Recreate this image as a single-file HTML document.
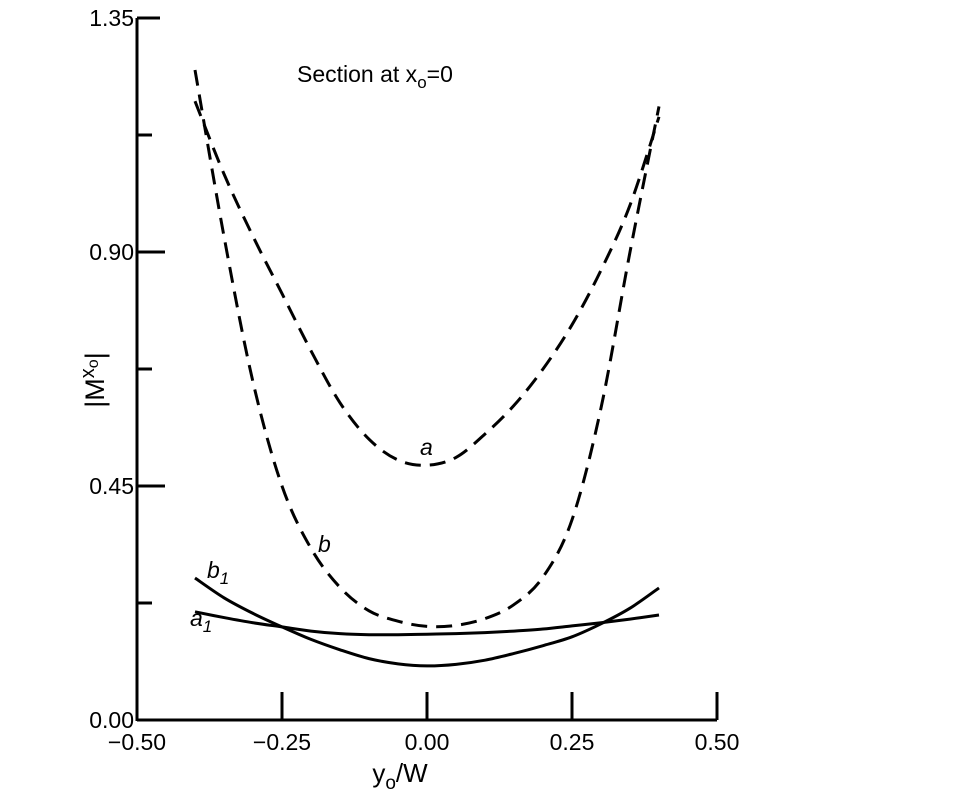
<!DOCTYPE html>
<html><head><meta charset="utf-8"><style>
body{margin:0;background:#fff;}
svg text{font-family:"Liberation Sans",sans-serif;fill:#000;}
</style></head><body>
<svg width="970" height="802" viewBox="0 0 970 802">
<g id="axes"></g>
<g id="series"></g>
<text x="297" y="82" font-size="23">Section at  x<tspan font-size="17" dy="6">o</tspan><tspan dy="-6">=0</tspan></text>
<text transform="translate(104,380) rotate(-90)" font-size="27" text-anchor="middle">|M<tspan font-size="20" dy="-10">x</tspan><tspan font-size="16" dy="4">o</tspan><tspan dy="6">|</tspan></text>
<text x="400" y="782" font-size="26" text-anchor="middle">y<tspan font-size="19" dy="7">o</tspan><tspan dy="-7">/W</tspan></text>
<text x="420" y="455" font-size="23" font-style="italic">a</text>
<text x="318" y="552" font-size="23" font-style="italic">b</text>
<text x="207" y="578" font-size="23" font-style="italic">b<tspan font-size="17" dy="6">1</tspan></text>
<text x="190" y="626" font-size="23" font-style="italic">a<tspan font-size="17" dy="6">1</tspan></text>
</svg>
<script>
const xs = [-0.4,-0.35,-0.3,-0.25,-0.2,-0.15,-0.1,-0.05,0,0.05,0.1,0.15,0.2,0.25,0.3,0.35,0.4];
const seriesA = [1.19,1.05,0.93,0.82,0.71,0.61,0.54,0.50,0.49,0.505,0.55,0.605,0.675,0.76,0.865,0.99,1.16];
const seriesB = [1.25,0.93,0.65,0.45,0.33,0.255,0.21,0.19,0.18,0.182,0.195,0.222,0.275,0.385,0.60,0.90,1.18];
const seriesB1 = [0.273,0.235,0.205,0.179,0.155,0.135,0.118,0.108,0.104,0.107,0.115,0.128,0.143,0.16,0.185,0.215,0.254];
const seriesA1 = [0.208,0.197,0.187,0.179,0.171,0.166,0.164,0.164,0.165,0.166,0.168,0.171,0.175,0.181,0.187,0.194,0.202];
const xTicks = [-0.5,-0.25,0,0.25,0.5];
const xTickLabels = ["\u22120.50","\u22120.25","0.00","0.25","0.50"];
const yTicks = [0,0.45,0.9,1.35];
const yTickLabels = ["0.00","0.45","0.90","1.35"];
const yMinor = [0.225,0.675,1.125];
const X = v => 137 + (v + 0.5) * 580;
const Y = v => 720 - v * 520;
const NS = "http://www.w3.org/2000/svg";
const axes = document.getElementById('axes');
const series = document.getElementById('series');
function mk(tag, attrs, parent){const e=document.createElementNS(NS,tag);for(const k in attrs)e.setAttribute(k,attrs[k]);parent.appendChild(e);return e;}
let l = mk('line',{x1:X(-0.5),y1:Y(0),x2:X(0.5),y2:Y(0),stroke:'#000','stroke-width':3},axes);


l = mk('line',{x1:X(-0.5),y1:Y(0)+1,x2:X(-0.5),y2:Y(1.35),stroke:'#000','stroke-width':3},axes);


xTicks.forEach((v,i)=>{
  if(i>0){const t=mk('line',{x1:X(v),y1:Y(0),x2:X(v),y2:Y(0)-28,stroke:'#000','stroke-width':3},axes);
  
  }
  const tx=mk('text',{x:X(v),y:Y(0)+30,'font-size':23,'text-anchor':'middle'},axes);
  tx.textContent=xTickLabels[i];
  
  
});
yTicks.forEach((v,i)=>{
  if(i>0){const t=mk('line',{x1:X(-0.5),y1:Y(v),x2:X(-0.5)+(v===1.35?23:28),y2:Y(v),stroke:'#000','stroke-width':3},axes);
  
  }
  const tx=mk('text',{x:X(-0.5)-3,y:Y(v)+8,'font-size':23,'text-anchor':'end'},axes);
  tx.textContent=yTickLabels[i];
  
  
});
yMinor.forEach(v=>{
  const t=mk('line',{x1:X(-0.5),y1:Y(v),x2:X(-0.5)+15,y2:Y(v),stroke:'#000','stroke-width':3},axes);
  
  
});
function pathFor(vals){
  const p=xs.map((x,i)=>[X(x),Y(vals[i])]);
  let d='M'+p[0][0]+','+p[0][1];
  for(let i=0;i<p.length-1;i++){
    const p0=p[Math.max(0,i-1)],p1=p[i],p2=p[i+1],p3=p[Math.min(p.length-1,i+2)];
    const c1=[p1[0]+(p2[0]-p0[0])/6,p1[1]+(p2[1]-p0[1])/6];
    const c2=[p2[0]-(p3[0]-p1[0])/6,p2[1]-(p3[1]-p1[1])/6];
    d+=' C'+c1+' '+c2+' '+p2;
  }
  return d;
}
const defs=[['curve-a',seriesA,'16 9'],['curve-b',seriesB,'16 9'],['curve-b1',seriesB1,null],['curve-a1',seriesA1,null]];
defs.forEach(([n,vals,dash])=>{
  const a={d:pathFor(vals),fill:'none',stroke:'#000','stroke-width':3};
  if(dash)a['stroke-dasharray']=dash;
  const p=mk('path',a,series);
  
  
});
</script>
</body></html>
